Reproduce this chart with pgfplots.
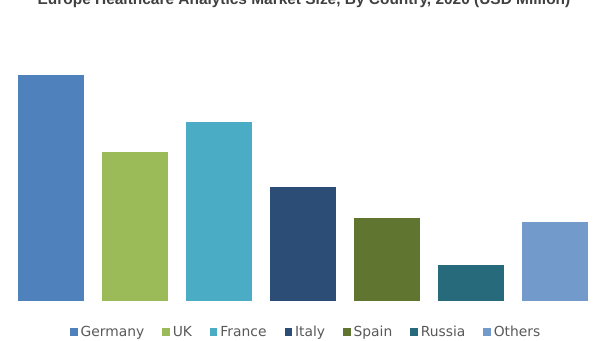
\documentclass[border=0pt]{standalone}
\usepackage{pgfplots}
\pgfplotsset{compat=1.18}
\usepackage{fontspec}
\setmainfont{DejaVu Sans}
\newfontfamily\titlefont{Liberation Sans}
\definecolor{cGer}{HTML}{4F81BD}
\definecolor{cUK}{HTML}{9BBB59}
\definecolor{cFra}{HTML}{4BACC6}
\definecolor{cIta}{HTML}{2C4D75}
\definecolor{cSpa}{HTML}{5F7530}
\definecolor{cRus}{HTML}{276A7C}
\definecolor{cOth}{HTML}{729ACA}
\definecolor{txt}{HTML}{595959}
\definecolor{ttl}{HTML}{404040}
\begin{document}
\begin{tikzpicture}[x=1bp,y=1bp]
\useasboundingbox (0,0) rectangle (605,340);
\node[anchor=base, inner sep=0pt, text=ttl, font=\titlefont\bfseries\fontsize{15.5}{18}\selectfont] at (304,335.5) {Europe Healthcare Analytics Market Size, By Country, 2020 (USD Million)};
\begin{axis}[
  at={(0,39)}, anchor=south west,
  scale only axis, width=605bp, height=240bp,
  xmin=-0.607, xmax=6.595, ymin=0, ymax=240,
  axis lines=none,
  ybar, bar width=66bp,
  every axis plot/.append style={bar shift=0pt, draw=none},
  legend image code/.code={\fill[#1] (0bp,-3.6bp) rectangle (7.5bp,3.9bp);},
  legend columns=-1,
  legend style={at={(0.507,-0.13)}, anchor=center, draw=none, fill=none,
    font=\fontsize{13.9}{16}\selectfont, text=txt,
    /tikz/every even column/.append style={column sep=15bp},
    inner sep=0pt, nodes={inner xsep=3bp, inner ysep=0pt}},
]
\addplot[fill=cGer] coordinates {(0,226)};
\addplot[fill=cUK] coordinates {(1,149)};
\addplot[fill=cFra] coordinates {(2,179)};
\addplot[fill=cIta] coordinates {(3,114)};
\addplot[fill=cSpa] coordinates {(4,83)};
\addplot[fill=cRus] coordinates {(5,36)};
\addplot[fill=cOth] coordinates {(6,79)};
\legend{Germany,UK,France,Italy,Spain,Russia,Others}
\end{axis}
\end{tikzpicture}
\end{document}
